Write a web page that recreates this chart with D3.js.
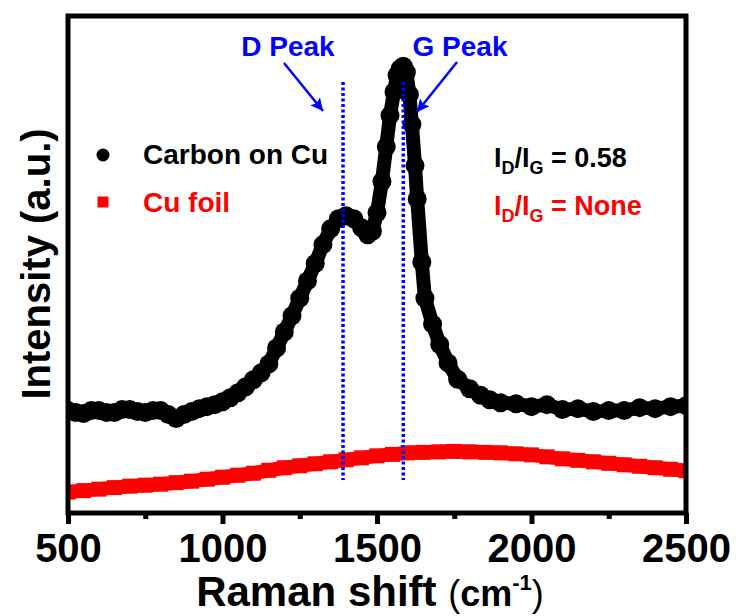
<!DOCTYPE html>
<html>
<head>
<meta charset="utf-8">
<script src="https://cdn.jsdelivr.net/npm/d3@7"></script>
<style>
  body { margin: 0; background: #fff; }
  text { font-family: "Liberation Sans", Arial, sans-serif; }
</style>
</head>
<body>
<script>
// Raman shift (cm-1) and intensity (a.u.)
var carbonShift = [500, 525, 550, 575, 600, 625, 650, 675, 700, 725, 750, 775, 800, 825, 850, 875,
    900, 925, 950, 975, 1000, 1025, 1050, 1075, 1100, 1125, 1150, 1175, 1200, 1225, 1250, 1275,
    1300, 1325, 1350, 1375, 1400, 1425, 1450, 1470, 1485, 1500, 1516, 1530, 1542, 1555, 1565,
    1575, 1585, 1595, 1605, 1613, 1623, 1630, 1645, 1655, 1680, 1703, 1730, 1761, 1800, 1835,
    1865, 1900, 1950, 2000, 2050, 2100, 2150, 2200, 2250, 2300, 2350, 2400, 2450, 2500];
var carbonInt = [206, 202, 200, 206, 206, 202, 202, 208, 208, 204, 202, 206, 206, 198, 190, 198,
    204, 210, 214, 218, 224, 232, 242, 254, 268, 282, 300, 332, 364, 397, 432, 467,
    502, 540, 572, 592, 598, 592, 574, 560, 567, 604, 667, 737, 800, 847, 881,
    894, 899, 887, 842, 782, 699, 632, 505, 432, 380, 339, 302, 269, 250, 237,
    228, 222, 220, 214, 218, 208, 210, 204, 206, 206, 212, 210, 214, 216];

var foilShift = [500, 550, 600, 650, 700, 750, 800, 850, 900, 950, 1000, 1050, 1100, 1150, 1200,
    1250, 1300, 1350, 1400, 1450, 1500, 1550, 1600, 1650, 1700, 1750, 1800, 1850, 1900, 1950,
    2000, 2050, 2100, 2150, 2200, 2250, 2300, 2350, 2400, 2450, 2500];
var foilInt = [42, 45, 48, 51, 54, 56, 58, 61, 64, 68, 72, 76, 80, 86, 91,
    95, 99, 103, 107, 111, 115, 118, 121, 122, 123, 124, 123, 122, 121, 119,
    117, 113, 109, 106, 103, 100, 97, 94, 91, 88, 85];

var majorTicks = [500, 1000, 1500, 2000, 2500];
var minorTicks = [750, 1250, 1750, 2250];
var peakNames = ["D Peak", "G Peak"];
var peakShift = [1390, 1585];

var svg = d3.select("body")
    .append("svg")
    .attr("width", 738)
    .attr("height", 616)
    .style("display", "block");

var x = d3.scaleLinear().domain([500, 2500]).range([68, 686]);
var y = d3.scaleLinear().domain([0, 1000]).range([513, 16]);

var carbon = carbonShift.map(function(d, i) { return [d, carbonInt[i]]; });
var foil = foilShift.map(function(d, i) { return [d, foilInt[i]]; });

var line = d3.line()
    .x(function(d) { return x(d[0]); })
    .y(function(d) { return y(d[1]); });

var defs = svg.append("defs");
defs.append("clipPath")
    .attr("id", "plot")
    .append("rect")
    .attr("x", 68)
    .attr("y", 16)
    .attr("width", 618)
    .attr("height", 497);

var plot = svg.append("g").attr("clip-path", "url(#plot)");

// Cu foil: red squares
plot.append("path")
    .attr("d", line(foil))
    .attr("fill", "none")
    .attr("stroke", "#ff0000")
    .attr("stroke-width", 14);

plot.selectAll(".sq")
    .data(foil)
    .enter()
    .append("rect")
    .attr("x", function(d) { return x(d[0]) - 7.5; })
    .attr("y", function(d) { return y(d[1]) - 7.5; })
    .attr("width", 15)
    .attr("height", 15)
    .attr("fill", "#ff0000");

// carbon on Cu: black circles
plot.append("path")
    .attr("d", line(carbon))
    .attr("fill", "none")
    .attr("stroke", "black")
    .attr("stroke-width", 14)
    .attr("stroke-linejoin", "round");

plot.selectAll(".dot")
    .data(carbon)
    .enter()
    .append("circle")
    .attr("cx", function(d) { return x(d[0]); })
    .attr("cy", function(d) { return y(d[1]); })
    .attr("r", 9.5)
    .attr("fill", "black");

// dotted peak markers
svg.selectAll(".peak")
    .data(peakShift)
    .enter()
    .append("line")
    .attr("x1", function(d) { return x(d); })
    .attr("x2", function(d) { return x(d); })
    .attr("y1", 82)
    .attr("y2", 480)
    .attr("stroke", "#0000ff")
    .attr("stroke-width", 3.5)
    .attr("stroke-dasharray", "3,2.5");

// peak labels and arrows
defs.append("marker")
    .attr("id", "arr")
    .attr("viewBox", "0 0 10 10")
    .attr("refX", 10)
    .attr("refY", 5)
    .attr("markerWidth", 6)
    .attr("markerHeight", 5)
    .attr("markerUnits", "strokeWidth")
    .attr("orient", "auto")
    .append("path")
    .attr("d", "M0,0 L10,5 L0,10 L2,5 z")
    .attr("fill", "#0000ff");

var labelX = [288, 460];
var arrows = [[284, 63, 323, 111], [457, 62, 417, 112]];

peakNames.forEach(function(name, i) {
    svg.append("text")
        .attr("x", labelX[i])
        .attr("y", 56)
        .attr("text-anchor", "middle")
        .attr("font-size", "28px")
        .attr("font-weight", "bold")
        .attr("fill", "#0000ff")
        .text(name);
    svg.append("line")
        .attr("x1", arrows[i][0])
        .attr("y1", arrows[i][1])
        .attr("x2", arrows[i][2])
        .attr("y2", arrows[i][3])
        .attr("stroke", "#0000ff")
        .attr("stroke-width", 2.5)
        .attr("marker-end", "url(#arr)");
});

// frame
svg.append("rect")
    .attr("x", 68)
    .attr("y", 16)
    .attr("width", 618)
    .attr("height", 497)
    .attr("fill", "none")
    .attr("stroke", "black")
    .attr("stroke-width", 5);

// x axis
var xAxis = svg.append("g")
    .attr("transform", "translate(0,513)")
    .call(d3.axisBottom(x).tickValues(majorTicks).tickSize(11).tickFormat(d3.format("d")));
xAxis.select(".domain").remove();
xAxis.selectAll(".tick line").attr("stroke-width", 5);
xAxis.selectAll(".tick text")
    .attr("y", 0)
    .attr("dy", "49px")
    .attr("font-size", "40px")
    .attr("font-weight", "bold")
    .attr("font-family", "Liberation Sans, Arial, sans-serif")
    .attr("fill", "black");

var xMinor = svg.append("g")
    .attr("transform", "translate(0,513)")
    .call(d3.axisBottom(x).tickValues(minorTicks).tickSize(6).tickFormat(""));
xMinor.select(".domain").remove();
xMinor.selectAll(".tick line").attr("stroke-width", 5);

// axis titles
var xt = svg.append("text")
    .attr("x", 370)
    .attr("y", 606)
    .attr("text-anchor", "middle")
    .attr("font-weight", "bold")
    .attr("font-size", "42px");
xt.append("tspan").text("Raman shift ");
xt.append("tspan").attr("font-size", "36px").attr("font-weight", "normal").text("(");
xt.append("tspan").attr("font-size", "36px").text("cm");
xt.append("tspan").attr("font-size", "22px").attr("dy", "-16").text("-1");
xt.append("tspan").attr("font-size", "36px").attr("font-weight", "normal").attr("dy", "16").text(")");

svg.append("text")
    .attr("transform", "translate(50,264) rotate(-90)")
    .attr("text-anchor", "middle")
    .attr("font-weight", "bold")
    .attr("font-size", "40px")
    .text("Intensity (a.u.)");

// legend
svg.append("circle")
    .attr("cx", 103)
    .attr("cy", 155)
    .attr("r", 6.5)
    .attr("fill", "black");
svg.append("text")
    .attr("x", 143)
    .attr("y", 164)
    .attr("font-size", "28px")
    .attr("font-weight", "bold")
    .text("Carbon on Cu");

svg.append("rect")
    .attr("x", 97.5)
    .attr("y", 196.5)
    .attr("width", 11)
    .attr("height", 11)
    .attr("fill", "#ff0000");
svg.append("text")
    .attr("x", 143)
    .attr("y", 212)
    .attr("font-size", "28px")
    .attr("font-weight", "bold")
    .attr("fill", "#ff0000")
    .text("Cu foil");

// ID/IG ratios
var ratios = ["0.58", "None"];
var ratioColor = ["black", "#ff0000"];
var ratioY = [167, 215];
ratios.forEach(function(r, i) {
    var t = svg.append("text")
        .attr("x", 494)
        .attr("y", ratioY[i])
        .attr("font-size", "27px")
        .attr("font-weight", "bold")
        .attr("fill", ratioColor[i]);
    t.append("tspan").text("I");
    t.append("tspan").attr("font-size", "18px").attr("dy", "7").text("D");
    t.append("tspan").attr("dy", "-7").text("/I");
    t.append("tspan").attr("font-size", "18px").attr("dy", "7").text("G");
    t.append("tspan").attr("dy", "-7").text(" = " + r);
});
</script>
</body>
</html>
